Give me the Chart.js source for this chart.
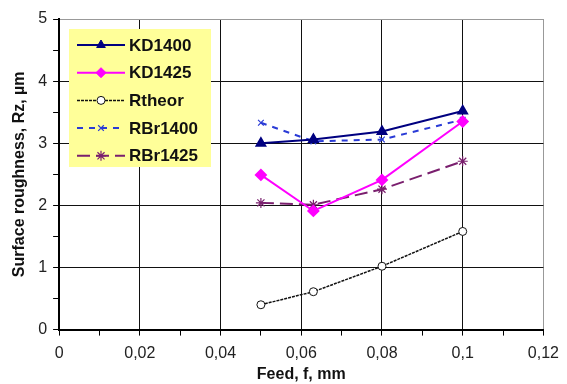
<!DOCTYPE html>
<html>
<head>
<meta charset="utf-8">
<script src="https://cdn.jsdelivr.net/npm/chart.js@4/dist/chart.umd.min.js"></script>
<style>
  html, body { margin: 0; padding: 0; background: #fff; }
  #wrap { width: 567px; height: 384px; }
</style>
</head>
<body>
<div id="wrap"><canvas id="roughChart" width="567" height="384"></canvas></div>
<script>
const feed = [0.05, 0.063, 0.08, 0.1];
const kd1400 = [3.0, 3.06, 3.19, 3.52];
const kd1425 = [2.49, 1.91, 2.41, 3.35];
const rtheor = [0.40, 0.61, 1.02, 1.58];
const rbr1400 = [3.33, 3.03, 3.06, 3.38];
const rbr1425 = [2.04, 2.01, 2.26, 2.71];
const xTickLabels = ['0', '0,02', '0,04', '0,06', '0,08', '0,1', '0,12'];
const yTickLabels = ['0', '1', '2', '3', '4', '5'];

function pts(ys) {
    return feed.map((f, i) => ({ x: f, y: ys[i] }));
}

const series = [
    { label: 'KD1400', data: pts(kd1400), borderColor: '#000080', backgroundColor: '#000080',
      borderWidth: 2, pointStyle: 'triangle', pointRadius: 5, borderDash: [] },
    { label: 'KD1425', data: pts(kd1425), borderColor: '#ff00ff', backgroundColor: '#ff00ff',
      borderWidth: 2, pointStyle: 'rectRot', pointRadius: 5, borderDash: [] },
    { label: 'Rtheor', data: pts(rtheor), borderColor: '#111111', backgroundColor: '#ffffff',
      borderWidth: 1.5, pointStyle: 'circle', pointRadius: 4, pointBorderWidth: 1, borderDash: [3, 1] },
    { label: 'RBr1400', data: pts(rbr1400), borderColor: '#2a3bd6', backgroundColor: '#2a3bd6',
      borderWidth: 2, pointStyle: 'crossRot', pointRadius: 4, pointBorderWidth: 1.2, borderDash: [6, 6] },
    { label: 'RBr1425', data: pts(rbr1425), borderColor: '#7a1f6e', backgroundColor: '#7a1f6e',
      borderWidth: 2, pointStyle: 'star', pointRadius: 5, pointBorderWidth: 1.2, borderDash: [13, 6] }
];

const fontFam = '"Liberation Sans", Arial, sans-serif';

// legend box drawn inside the plot, like the original spreadsheet chart
const innerLegend = {
    id: 'innerLegend',
    afterDatasetsDraw(chart) {
        const ctx = chart.ctx;
        const bx = 69, by = 29, bw = 142, bh = 138;
        ctx.save();
        ctx.fillStyle = '#ffff99';
        ctx.fillRect(bx, by, bw, bh);
        ctx.font = 'bold 17px ' + fontFam;
        ctx.textBaseline = 'middle';
        chart.data.datasets.forEach((ds, i) => {
            const cy = by + 16 + i * 27.7;
            ctx.strokeStyle = ds.borderColor;
            ctx.lineWidth = ds.borderWidth;
            ctx.setLineDash(ds.borderDash || []);
            ctx.beginPath();
            ctx.moveTo(77, cy);
            ctx.lineTo(125, cy);
            ctx.stroke();
            ctx.setLineDash([]);
            ctx.fillStyle = ds.backgroundColor;
            ctx.lineWidth = ds.pointBorderWidth || 1;
            Chart.helpers.drawPoint(ctx, { pointStyle: ds.pointStyle, radius: ds.pointRadius, borderWidth: ctx.lineWidth, rotation: 0 }, 101, cy);
            ctx.fillStyle = '#111';
            ctx.fillText(ds.label, 129, cy + 1);
        });
        ctx.restore();
    }
};

const ctx = document.getElementById('roughChart').getContext('2d');
new Chart(ctx, {
    type: 'line',
    data: { datasets: series.map(s => Object.assign({ fill: false, tension: 0, pointBorderColor: s.borderColor }, s)) },
    options: {
        responsive: false,
        animation: false,
        layout: { padding: { top: 19, right: 2, left: 10, bottom: 0 } },
        plugins: { legend: { display: false }, tooltip: { enabled: false } },
        scales: {
            x: {
                type: 'linear', min: 0, max: 0.12,
                ticks: {
                    stepSize: 0.01, autoSkip: false, maxRotation: 0, padding: 8, color: '#222',
                    font: { family: fontFam, size: 16 },
                    callback: (v, i) => (i % 2 === 0 ? xTickLabels[i / 2] : '')
                },
                grid: {
                    color: c => (c.index % 2 !== 0 ? 'rgba(0,0,0,0)' : (c.index === 12 ? '#999' : '#111')),
                    lineWidth: 1, tickLength: 6, tickColor: '#000', drawTicks: true
                },
                border: { color: '#000', width: 2 },
                title: {
                    display: true, text: 'Feed, f, mm', color: '#111', padding: { top: -6, bottom: 0 },
                    font: { family: fontFam, size: 16, weight: 'bold' }
                }
            },
            y: {
                min: 0, max: 5,
                ticks: {
                    stepSize: 0.5, autoSkip: false, padding: 6, color: '#222',
                    font: { family: fontFam, size: 16 },
                    callback: (v, i) => (i % 2 === 0 ? yTickLabels[i / 2] : '')
                },
                grid: {
                    color: c => (c.index % 2 !== 0 ? 'rgba(0,0,0,0)' : (c.index === 10 ? '#999' : '#111')),
                    lineWidth: 1, tickLength: 6, tickColor: '#000', drawTicks: true
                },
                border: { color: '#000', width: 2 },
                title: {
                    display: true, text: 'Surface roughness, Rz, µm', color: '#111', padding: { top: 0, bottom: 3 },
                    font: { family: fontFam, size: 16, weight: 'bold' }
                }
            }
        }
    },
    plugins: [innerLegend]
});
</script>
</body>
</html>
